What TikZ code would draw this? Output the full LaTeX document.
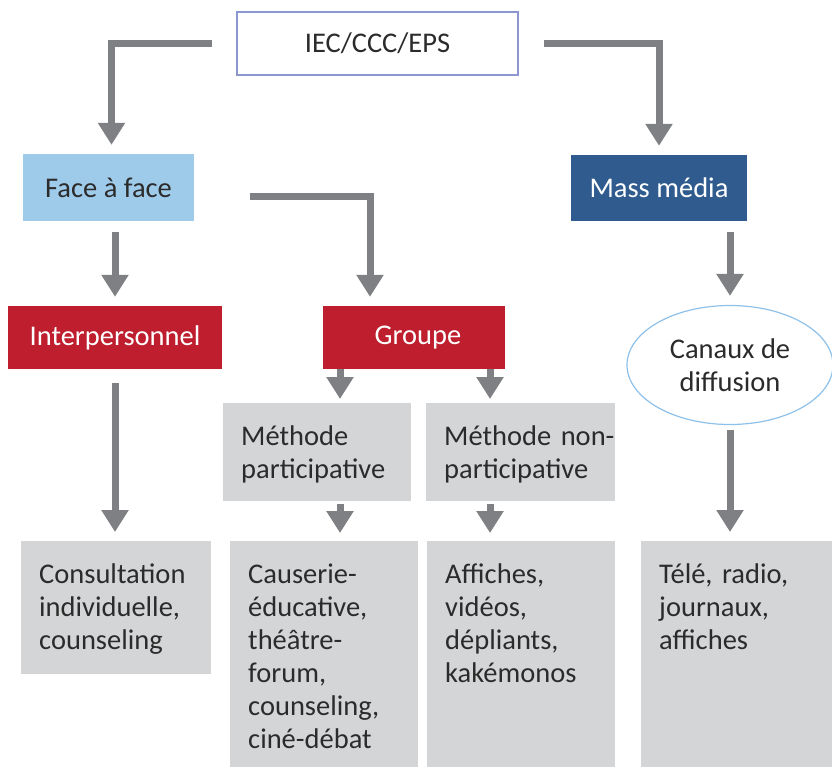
\documentclass[tikz,border=0pt]{standalone}
\usepackage{fontspec}
\setmainfont{Carlito}
\usepackage{tikz}
\usetikzlibrary{arrows.meta,calc,positioning,shapes.geometric}
\definecolor{LinkGray}{HTML}{7F8083}
\definecolor{TextDark}{HTML}{2B2B2B}
\definecolor{TopLine}{HTML}{8C96CF}
\definecolor{FaceBlue}{HTML}{9FCBEB}
\definecolor{MassBlue}{HTML}{2F5B8E}
\definecolor{GroupRed}{HTML}{BE1E2D}
\definecolor{ItemGray}{HTML}{D4D5D7}
\definecolor{CanalLine}{HTML}{8EC1EA}

\begin{document}
\begin{tikzpicture}[
  x=1pt,y=-1pt,
  every node/.style={
    font=\fontsize{28.5}{33}\selectfont,text=TextDark,
    inner sep=0pt
  },
  topbox/.style={draw=TopLine,line width=1.2pt,fill=white,
    minimum width=281pt,minimum height=63pt},
  facebox/.style={fill=FaceBlue,minimum width=171pt,minimum height=67pt},
  massbox/.style={fill=MassBlue,text=white,minimum width=176pt,minimum height=66pt},
  redbox/.style={fill=GroupRed,text=white,minimum height=63pt},
  canalbox/.style={ellipse,draw=CanalLine,line width=1.2pt,fill=white,
    minimum width=206pt,minimum height=119pt,align=center},
  itembox/.style={fill=ItemGray,anchor=north west,align=left,
    inner sep=18pt,text height=24pt},
  link/.style={draw=LinkGray,line width=7pt,
    -{Triangle[width=26pt,length=22pt]}}
]
  \useasboundingbox (0,0) rectangle (832,767);

  \node[topbox] (iec) at (377.5,43.5) {IEC/CCC/EPS};
  \node[facebox] (face) at (108.5,187.5) {Face à face};
  \node[massbox] (mass) at (659,188) {Mass média};
  \node[redbox,minimum width=214pt] (inter) at (115,337.5) {Interpersonnel};
  \node[redbox,minimum width=182pt] (groupe) at (414,337.5) {\hspace{8pt}Groupe};
  \node[canalbox] (canaux) at (730,365) {Canaux de\\diffusion};

  \node[itembox,text width=152pt,text depth=38pt] (methpart) at (223,403)
    {Méthode\\participative};
  \node[itembox,text width=153pt,text depth=38pt] (methnon) at (426,403)
    {\mbox{Méthode non-}\\participative};

  \node[itembox,text width=154pt,text depth=73pt] (consult) at (21,541)
    {Consultation\\individuelle,\\counseling};
  \node[itembox,text width=152pt,text depth=166pt] (causerie) at (230,541)
    {Causerie-\\éducative,\\théâtre-\\forum,\\counseling,\\ciné-débat};
  \node[itembox,text width=152pt,text depth=166pt] (affiches) at (427,541)
    {Affiches,\\vidéos,\\dépliants,\\kakémonos};
  \node[itembox,text width=155pt,text depth=166pt] (tele) at (641,541)
    {Télé, radio,\\journaux,\\affiches};

  \draw[link,shorten >=9pt] ([xshift=-24pt]iec.west) -| ([xshift=3pt]face.north);
  \draw[link,shorten >=9pt] ([xshift=25pt]iec.east) -| (mass.north);
  \draw[link,shorten <=11pt,shorten >=9pt] (inter.north |- face.south) -- (inter.north);
  \draw[link,shorten >=9pt] ([xshift=56pt,yshift=-9pt]face.east) -| ([xshift=-44pt]groupe.north);
  \draw[link,shorten <=11pt,shorten >=9pt] (canaux.north |- mass.south) -- (canaux.north);

  \draw[link,shorten <=14pt,shorten >=9pt] (inter.south) -- (inter.south |- consult.north);
  \draw[link,shorten >=4pt] ([xshift=-74pt]groupe.south) -- ([xshift=-74pt]groupe.south |- methpart.north);
  \draw[link,shorten >=4pt] ([xshift=76pt]groupe.south) -- ([xshift=76pt]groupe.south |- methnon.north);
  \draw[link,shorten <=3pt,shorten >=8pt] ([xshift=-74pt]groupe.south |- methpart.south) -- ([xshift=-74pt]groupe.south |- causerie.north);
  \draw[link,shorten <=3pt,shorten >=8pt] ([xshift=76pt]groupe.south |- methnon.south) -- ([xshift=76pt]groupe.south |- affiches.north);
  \draw[link,shorten <=5pt,shorten >=9pt] (canaux.south) -- (canaux.south |- tele.north);
\end{tikzpicture}
\end{document}
